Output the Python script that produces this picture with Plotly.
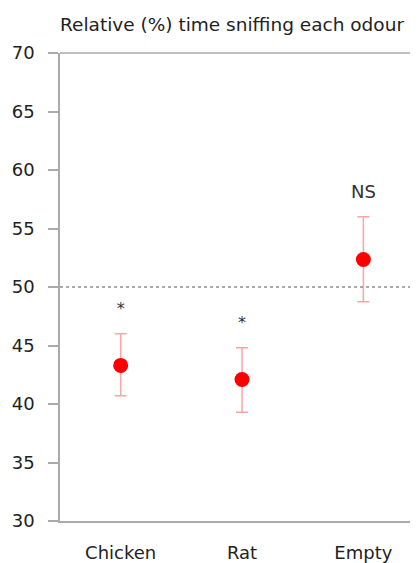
import plotly.graph_objects as go

categories = ["Chicken", "Rat", "Empty"]
means = [43.3, 42.1, 52.35]
upper = [46.0, 44.8, 56.0]
lower = [40.7, 39.3, 48.75]
labels = ["*", "*", "NS"]
label_y = [48.0, 46.8, 58.0]
ref_value = 50
y_ticks = [30, 35, 40, 45, 50, 55, 60, 65, 70]

xs = [1, 2, 3]
err_plus = [u - m for u, m in zip(upper, means)]
err_minus = [m - l for m, l in zip(means, lower)]

# page body has an 8px margin, so the figure is sized to fit the window
W, H = 410, 555
FONT = "DejaVu Sans"

fig = go.Figure()
fig.add_trace(go.Scatter(
    x=xs, y=means, mode="markers",
    marker=dict(color="#ff0000", size=15),
    error_y=dict(type="data", symmetric=False, array=err_plus, arrayminus=err_minus,
                 color="rgba(255,90,90,0.55)", thickness=1.5, width=6),
    showlegend=False, cliponaxis=False,
))
fig.add_trace(go.Scatter(
    x=xs, y=label_y, mode="text", text=labels,
    textfont=dict(family=FONT, size=[16, 16, 18], color="#333333"),
    showlegend=False, cliponaxis=False,
))

fig.add_shape(type="line", xref="paper", yref="y", x0=0, x1=1, y0=ref_value, y1=ref_value,
              line=dict(color="#555555", width=1, dash="3px,3px"))
fig.add_shape(type="line", xref="paper", yref="paper", x0=0, x1=1, y0=1, y1=1,
              line=dict(color="#aaaaaa", width=1.5))

fig.update_layout(
    width=W, height=H,
    margin=dict(l=52, r=0, t=45, b=42),
    paper_bgcolor="white", plot_bgcolor="white",
    font=dict(family=FONT, color="#333333"),
    title=dict(text="Relative (%) time sniffing each odour", x=52/W, xanchor="left",
               y=1 - 17/H, yanchor="middle",
               font=dict(family=FONT, size=18.5, color="#222222")),
    xaxis=dict(range=[0.5, 3.45], tickmode="array", tickvals=xs, ticktext=categories,
               showgrid=False, zeroline=False, showline=True, linecolor="#aaaaaa", linewidth=1.5,
               ticks="", ticklabelstandoff=15, automargin=False,
               tickfont=dict(family=FONT, size=18, color="#222222")),
    yaxis=dict(range=[30, 70], tickmode="array", tickvals=y_ticks,
               showgrid=False, zeroline=False, showline=True, linecolor="#aaaaaa", linewidth=1.5,
               ticks="outside", ticklen=10, tickcolor="#aaaaaa", tickwidth=1.5,
               ticklabelstandoff=10, automargin=False,
               tickfont=dict(family=FONT, size=18, color="#222222")),
)

fig.write_html("out.html")
